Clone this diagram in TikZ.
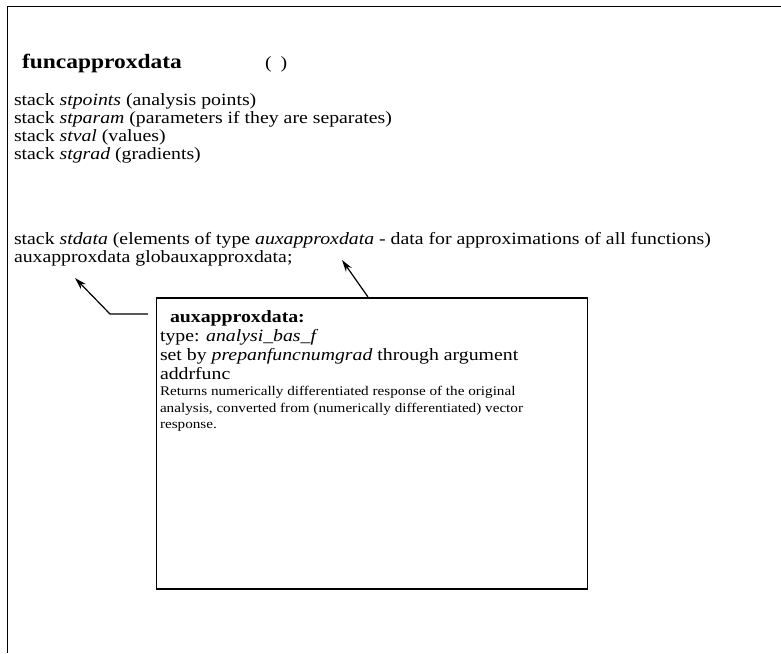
\documentclass[tikz,border=0pt]{standalone}
\usepackage{fontspec}
\setmainfont{Liberation Serif}[FakeStretch=1.15]
\usetikzlibrary{arrows.meta}
\tikzset{
  txt/.style={anchor=base west, inner sep=0pt, outer sep=0pt, font=\fontsize{17.2}{18}\selectfont},
  small/.style={anchor=base west, inner sep=0pt, outer sep=0pt, font=\fontsize{13.2}{17}\selectfont},
  ttl/.style={anchor=base west, inner sep=0pt, outer sep=0pt, font=\fontsize{20.4}{22}\selectfont\bfseries},
  frame/.style={line width=1.3pt},
  boxst/.style={draw, line width=1.6pt, inner sep=0pt, minimum width=431pt, minimum height=291pt, anchor=north west},
  conn/.style={line width=1.2pt, -{Stealth[length=12pt,width=7pt]}}
}
\begin{document}
\begin{tikzpicture}[x=1pt,y=-1pt]
\useasboundingbox (0,0) rectangle (781,653);
\coordinate (fb) at (7.5,653);
\coordinate (ft) at (7.5,6.5);
\coordinate (fr) at (781,6.5);
\draw[frame] (fb) -- (ft) -- (fr);

\node[ttl] (title) at (22,68) {funcapproxdata};
\node[txt] (paren) at (265,68) {(\hspace{9pt})};

\node[txt] (l1) at (14,105.5) {stack \textit{stpoints} (analysis points)};
\node[txt] (l2) at (14,123.5) {stack \textit{stparam} (parameters if they are separates)};
\node[txt] (l3) at (14,141.5) {stack \textit{stval} (values)};
\node[txt] (l4) at (14,159.5) {stack \textit{stgrad} (gradients)};

\node[txt] (l5) at (14,244) {stack \textit{stdata} (elements of type \textit{auxapproxdata} - data for approximations of all functions)};
\node[txt] (l6) at (14,262) {auxapproxdata globauxapproxdata;};

\node[boxst] (box) at (155.5,297) {};
\node[txt, font=\fontsize{17.2}{18}\selectfont\bfseries] (b1) at (170,322) {auxapproxdata:};
\node[txt] (b2) at (160,341) {type: \textit{analysi\_bas\_f}};
\node[txt] (b3) at (160,360) {set by \textit{prepanfuncnumgrad} through argument};
\node[txt] (b4) at (160,379) {addrfunc};
\node[small] (b5) at (160,395.5) {Returns numerically differentiated response of the original};
\node[small] (b6) at (160,412) {analysis, converted from (numerically differentiated) vector};
\node[small] (b7) at (160,428.5) {response.};

\coordinate (la) at (148,314);
\coordinate (lb) at (110,314);
\coordinate (lt) at (75,278);
\draw[conn] (la) -- (lb) -- (lt);
\coordinate (rb) at (368,297);
\coordinate (rt) at (342,260);
\draw[conn] (rb) -- (rt);
\end{tikzpicture}
\end{document}
